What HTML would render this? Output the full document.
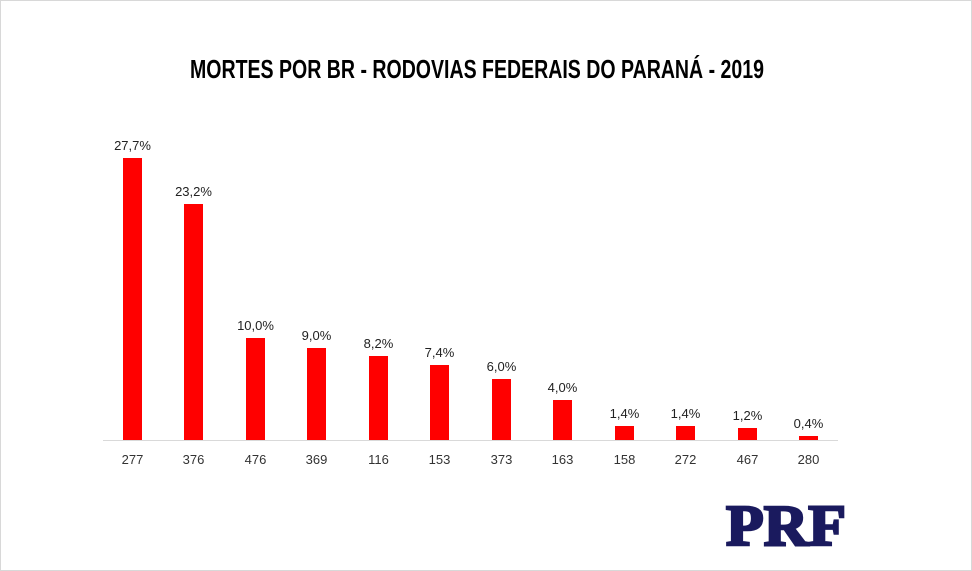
<!DOCTYPE html>
<html><head><meta charset="utf-8"><style>
html,body{margin:0;padding:0;background:#fff}
svg{display:block}
</style></head><body>
<svg width="972" height="571" viewBox="0 0 972 571" xmlns="http://www.w3.org/2000/svg" font-family="Liberation Sans, Arial, sans-serif">
<rect x="0.5" y="0.5" width="971" height="570" fill="#fff" stroke="#d8d8d8"/>
<text x="190" y="78" font-size="26" font-weight="bold" textLength="574" lengthAdjust="spacingAndGlyphs" fill="#000">MORTES POR BR - RODOVIAS FEDERAIS DO PARANÁ - 2019</text>
<line x1="103" y1="440.5" x2="838" y2="440.5" stroke="#d9d9d9" stroke-width="1"/>
<g fill="#ff0000">
<rect x="123" y="158" width="19" height="282"/>
<rect x="184" y="204" width="19" height="236"/>
<rect x="246" y="338" width="19" height="102"/>
<rect x="307" y="348" width="19" height="92"/>
<rect x="369" y="356" width="19" height="84"/>
<rect x="430" y="365" width="19" height="75"/>
<rect x="492" y="379" width="19" height="61"/>
<rect x="553" y="400" width="19" height="40"/>
<rect x="615" y="426" width="19" height="14"/>
<rect x="676" y="426" width="19" height="14"/>
<rect x="738" y="428" width="19" height="12"/>
<rect x="799" y="436" width="19" height="4"/>
</g>
<g font-size="13" fill="#222" text-anchor="middle">
<text x="132.5" y="150">27,7%</text>
<text x="193.5" y="196">23,2%</text>
<text x="255.5" y="330">10,0%</text>
<text x="316.5" y="340">9,0%</text>
<text x="378.5" y="348">8,2%</text>
<text x="439.5" y="357">7,4%</text>
<text x="501.5" y="371">6,0%</text>
<text x="562.5" y="392">4,0%</text>
<text x="624.5" y="418">1,4%</text>
<text x="685.5" y="418">1,4%</text>
<text x="747.5" y="420">1,2%</text>
<text x="808.5" y="428">0,4%</text>
</g>
<g font-size="13" fill="#333" text-anchor="middle">
<text x="132.5" y="464">277</text>
<text x="193.5" y="464">376</text>
<text x="255.5" y="464">476</text>
<text x="316.5" y="464">369</text>
<text x="378.5" y="464">116</text>
<text x="439.5" y="464">153</text>
<text x="501.5" y="464">373</text>
<text x="562.5" y="464">163</text>
<text x="624.5" y="464">158</text>
<text x="685.5" y="464">272</text>
<text x="747.5" y="464">467</text>
<text x="808.5" y="464">280</text>
</g>
<text x="726" y="545" font-size="58" font-weight="bold" style="font-family:'Liberation Serif',serif" fill="#1a1a5e" textLength="120" lengthAdjust="spacingAndGlyphs" stroke="#1a1a5e" stroke-width="2.5">PRF</text>
</svg>
</body></html>
